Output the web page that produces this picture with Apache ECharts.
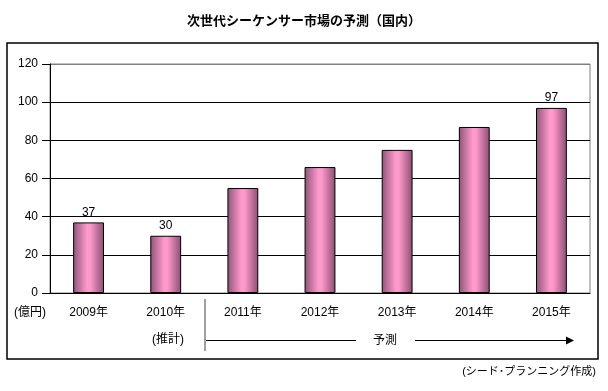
<!DOCTYPE html>
<html>
<head>
<meta charset="utf-8">
<script src="https://cdn.jsdelivr.net/npm/echarts@6/dist/echarts.min.js"></script>
<style>html,body{margin:0;padding:0;background:#fff}#c{width:608px;height:391px}</style>
</head>
<body>
<div id="c"></div>
<script>
var title = '次世代シーケンサー市場の予測（国内）';
var categories = ['2009年', '2010年', '2011年', '2012年', '2013年', '2014年', '2015年'];
var values = [37, 30, 55, 66, 75, 87, 97];
var shownLabels = [true, true, false, false, false, false, true];
var yTicks = [0, 20, 40, 60, 80, 100, 120];
var unitText = '(億円)';
var estimateText = '(推計)';
var forecastText = '予測';
var sourceText = '(シード･プランニング作成)';

var FONT = '"Liberation Sans", Arial, "Noto Sans CJK JP", sans-serif';
var chart = echarts.init(document.getElementById('c'), null, {renderer: 'canvas'});

var barGrad = new echarts.graphic.LinearGradient(0, 0, 1, 0, [
  {offset: 0, color: '#8e5478'},
  {offset: 0.45, color: '#ff99cc'},
  {offset: 0.55, color: '#ff99cc'},
  {offset: 1, color: '#8a4f70'}
]);

var data = values.map(function (v, i) {
  return {value: v, label: {show: shownLabels[i]}};
});

chart.setOption({
  animation: false,
  backgroundColor: '#fff',
  title: {
    text: title, left: 'center', top: 10,
    textStyle: {fontFamily: FONT, fontSize: 13, fontWeight: 'bold', color: '#000'}
  },
  grid: {left: 50, right: 18, top: 64, bottom: 98, show: true, borderColor: '#808080', borderWidth: 1, backgroundColor: 'transparent'},
  xAxis: {
    type: 'category', data: categories,
    axisLine: {lineStyle: {color: '#000', width: 1}},
    axisTick: {inside: true, length: 4, lineStyle: {color: '#000'}},
    axisLabel: {margin: 14, fontFamily: FONT, fontSize: 12, color: '#000'}
  },
  yAxis: {
    type: 'value', min: yTicks[0], max: yTicks[yTicks.length - 1], interval: 20,
    axisLine: {show: true, lineStyle: {color: '#000', width: 1}},
    axisTick: {show: true, length: 8, lineStyle: {color: '#000'}},
    axisLabel: {margin: 12, fontFamily: FONT, fontSize: 12, color: '#000'},
    splitLine: {show: true, lineStyle: {color: ['#000', '#000', '#000', '#000', '#000', '#000', '#808080'], width: 1}}
  },
  series: [{
    type: 'bar', data: data, barWidth: '40%',
    itemStyle: {color: barGrad, borderColor: '#000', borderWidth: 1},
    label: {position: 'top', distance: 4, fontFamily: FONT, fontSize: 12, color: '#000'}
  }],
  graphic: [
    {type: 'rect', shape: {x: 7, y: 43, width: 591, height: 316}, style: {fill: 'none', stroke: '#000', lineWidth: 1.5}, z: 0},
    {type: 'text', x: 30, y: 313, style: {text: unitText, fontFamily: FONT, fontSize: 12, fill: '#000', align: 'center', verticalAlign: 'middle'}},
    {type: 'text', x: 168, y: 340, style: {text: estimateText, fontFamily: FONT, fontSize: 12, fill: '#000', align: 'center', verticalAlign: 'middle'}},
    {type: 'line', shape: {x1: 205, y1: 299, x2: 205, y2: 351}, style: {stroke: '#808080', lineWidth: 1.5}},
    {type: 'line', shape: {x1: 206, y1: 340.5, x2: 356, y2: 340.5}, style: {stroke: '#000', lineWidth: 1}},
    {type: 'text', x: 385, y: 341, style: {text: forecastText, fontFamily: FONT, fontSize: 12, fill: '#000', align: 'center', verticalAlign: 'middle'}},
    {type: 'line', shape: {x1: 415, y1: 340.5, x2: 567, y2: 340.5}, style: {stroke: '#000', lineWidth: 1}},
    {type: 'polygon', shape: {points: [[566, 336.5], [574, 340.5], [566, 344.5]]}, style: {fill: '#000'}},
    {type: 'text', x: 596, y: 372, style: {text: sourceText, fontFamily: FONT, fontSize: 11, fill: '#000', align: 'right', verticalAlign: 'middle'}}
  ]
});
</script>
</body>
</html>
